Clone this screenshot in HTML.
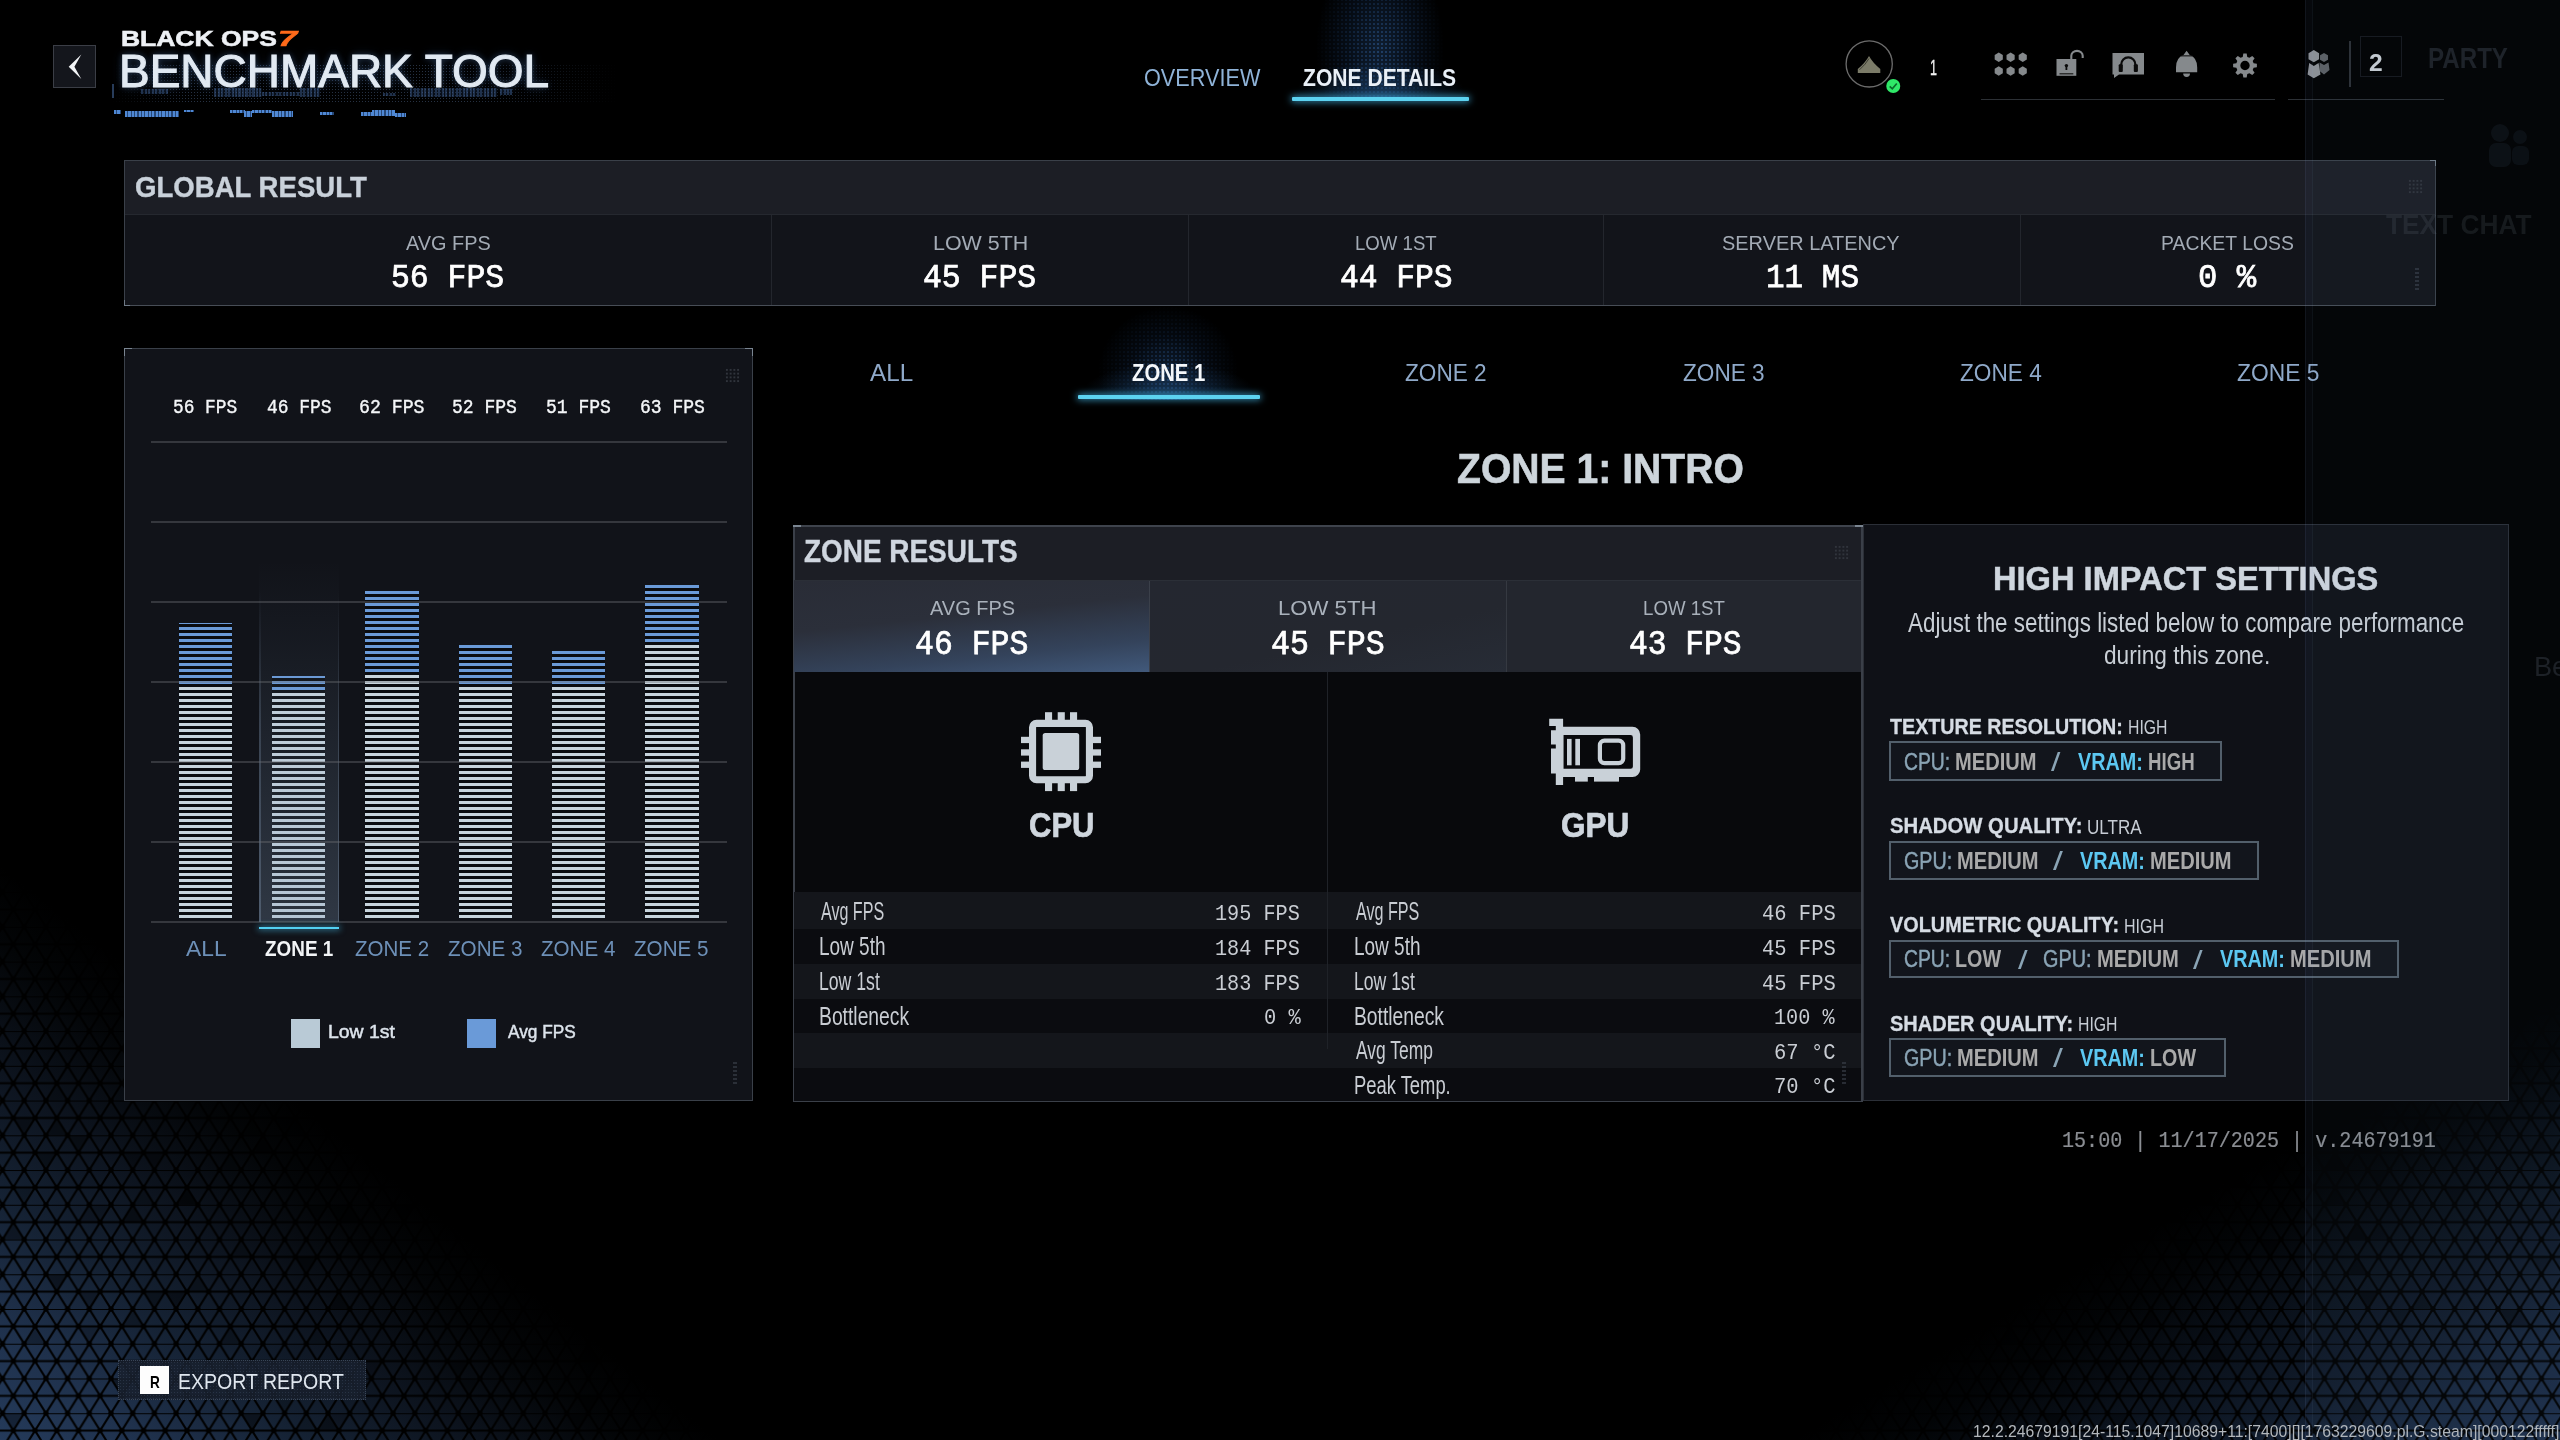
<!DOCTYPE html>
<html lang="en"><head><meta charset="utf-8"><title>Benchmark Tool</title>
<style>

html,body{margin:0;padding:0;background:#000;}
body{width:2560px;height:1440px;position:relative;overflow:hidden;font-family:'Liberation Sans',sans-serif;}
.t{position:absolute;white-space:pre;transform-origin:0 0;}
.a{position:absolute;box-sizing:border-box;}
svg{position:absolute;left:0;top:0;overflow:visible;}

</style></head>
<body>
<svg width="2560" height="1440" viewBox="0 0 2560 1440" style="z-index:0">
<defs>
<pattern id="tri" width="21.7" height="34.74" patternUnits="userSpaceOnUse" patternTransform="translate(2.5,23.63)">
<path d="M0,0 H21.7 M0,17.37 H21.7 M0,0 L10.85,17.37 L0,34.74 M21.7,0 L10.85,17.37 L21.7,34.74" stroke="#000" stroke-width="2.1" fill="none"/>
<circle cx="0" cy="0" r="2.7" fill="#000"/><circle cx="21.7" cy="0" r="2.7" fill="#000"/>
<circle cx="10.85" cy="17.37" r="2.7" fill="#000"/>
<circle cx="0" cy="34.74" r="2.7" fill="#000"/><circle cx="21.7" cy="34.74" r="2.7" fill="#000"/>
</pattern>
<linearGradient id="gl" gradientUnits="userSpaceOnUse" x1="0" y1="1440" x2="281" y2="1088.7"><stop offset="0" stop-color="rgb(36,58,90)"/><stop offset="0.208" stop-color="rgb(31,49,76)"/><stop offset="0.417" stop-color="rgb(21,34,52)"/><stop offset="0.64" stop-color="rgb(13,20,31)"/><stop offset="0.86" stop-color="rgb(3,5,7)"/><stop offset="1" stop-color="rgb(0,0,0)"/></linearGradient>
<linearGradient id="gr" gradientUnits="userSpaceOnUse" x1="2560" y1="1440" x2="2359.8" y2="1102.9"><stop offset="0" stop-color="rgb(30,48,76)"/><stop offset="0.208" stop-color="rgb(26,41,65)"/><stop offset="0.417" stop-color="rgb(17,28,44)"/><stop offset="0.64" stop-color="rgb(10,17,27)"/><stop offset="0.86" stop-color="rgb(2,4,6)"/><stop offset="1" stop-color="rgb(0,0,0)"/></linearGradient>
</defs>
<rect x="0" y="850" width="740" height="590" fill="url(#gl)"/>
<rect x="1780" y="970" width="780" height="470" fill="url(#gr)"/>
<polygon points="306.3,1378.5 295.4,1395.9 317.2,1395.9" fill="rgba(0,0,0,0.45)"/><polygon points="317.2,1361.1 306.3,1378.5 328.0,1378.5" fill="rgba(0,0,0,0.3)"/><polygon points="121.8,1361.1 143.5,1361.1 132.7,1378.5" fill="rgba(0,0,0,0.3)"/><polygon points="78.4,1326.4 100.1,1326.4 89.3,1343.8" fill="rgba(0,0,0,0.22)"/><polygon points="371.4,1100.6 360.5,1117.9 382.2,1117.9" fill="rgba(0,0,0,0.45)"/><polygon points="306.3,1413.2 295.4,1430.6 317.2,1430.6" fill="rgba(0,0,0,0.22)"/><polygon points="577.5,1361.1 599.2,1361.1 588.4,1378.5" fill="rgba(0,0,0,0.22)"/><polygon points="132.7,1204.8 121.8,1222.2 143.5,1222.2" fill="rgba(0,0,0,0.45)"/><polygon points="230.3,1326.4 219.5,1343.8 241.2,1343.8" fill="rgba(0,0,0,0.3)"/><polygon points="349.7,1204.8 338.8,1222.2 360.6,1222.2" fill="rgba(0,0,0,0.45)"/><polygon points="13.3,1117.9 35.0,1117.9 24.2,1135.3" fill="rgba(0,0,0,0.38)"/><polygon points="284.6,1378.5 273.7,1395.9 295.4,1395.9" fill="rgba(0,0,0,0.22)"/><polygon points="490.8,1222.2 512.5,1222.2 501.6,1239.5" fill="rgba(0,0,0,0.3)"/><polygon points="349.7,1239.5 371.4,1239.5 360.6,1256.9" fill="rgba(0,0,0,0.22)"/><polygon points="262.9,1135.3 252.0,1152.7 273.8,1152.7" fill="rgba(0,0,0,0.45)"/><polygon points="56.8,1083.2 45.9,1100.6 67.6,1100.6" fill="rgba(0,0,0,0.22)"/><polygon points="143.5,1187.4 132.7,1204.8 154.4,1204.8" fill="rgba(0,0,0,0.22)"/><polygon points="338.9,1291.6 328.0,1309.0 349.7,1309.0" fill="rgba(0,0,0,0.45)"/><polygon points="295.4,1117.9 284.6,1135.3 306.3,1135.3" fill="rgba(0,0,0,0.3)"/><polygon points="534.1,1222.2 555.9,1222.2 545.0,1239.5" fill="rgba(0,0,0,0.38)"/><polygon points="230.3,1083.2 219.5,1100.6 241.2,1100.6" fill="rgba(0,0,0,0.22)"/><polygon points="89.3,1204.8 78.5,1222.2 100.1,1222.2" fill="rgba(0,0,0,0.22)"/><polygon points="35.0,1326.4 24.2,1343.8 45.9,1343.8" fill="rgba(0,0,0,0.3)"/><polygon points="458.2,1378.5 479.9,1378.5 469.1,1395.9" fill="rgba(0,0,0,0.3)"/><polygon points="512.4,1152.7 534.1,1152.7 523.3,1170.0" fill="rgba(0,0,0,0.45)"/><polygon points="78.4,1291.6 100.1,1291.6 89.3,1309.0" fill="rgba(0,0,0,0.3)"/><polygon points="13.3,1222.2 2.5,1239.5 24.2,1239.5" fill="rgba(0,0,0,0.38)"/><polygon points="13.3,1187.4 35.0,1187.4 24.2,1204.8" fill="rgba(0,0,0,0.22)"/><polygon points="35.0,1152.7 56.8,1152.7 45.9,1170.0" fill="rgba(0,0,0,0.38)"/><polygon points="2.5,1413.2 24.2,1413.2 13.3,1430.6" fill="rgba(0,0,0,0.38)"/><polygon points="273.8,1117.9 295.4,1117.9 284.6,1135.3" fill="rgba(0,0,0,0.3)"/><polygon points="393.1,1204.8 414.8,1204.8 403.9,1222.2" fill="rgba(0,0,0,0.38)"/><polygon points="241.2,1413.2 262.9,1413.2 252.0,1430.6" fill="rgba(0,0,0,0.45)"/><polygon points="577.5,1395.9 599.2,1395.9 588.4,1413.2" fill="rgba(0,0,0,0.45)"/><polygon points="121.8,1152.7 143.5,1152.7 132.7,1170.0" fill="rgba(0,0,0,0.3)"/><polygon points="566.7,1413.2 588.4,1413.2 577.5,1430.6" fill="rgba(0,0,0,0.3)"/><polygon points="111.0,1378.5 132.7,1378.5 121.8,1395.9" fill="rgba(0,0,0,0.45)"/><polygon points="328.0,1413.2 349.7,1413.2 338.9,1430.6" fill="rgba(0,0,0,0.22)"/><polygon points="67.6,1135.3 89.3,1135.3 78.4,1152.7" fill="rgba(0,0,0,0.38)"/><polygon points="165.2,1291.6 186.9,1291.6 176.1,1309.0" fill="rgba(0,0,0,0.45)"/><polygon points="208.6,1361.1 230.3,1361.1 219.5,1378.5" fill="rgba(0,0,0,0.22)"/><polygon points="89.3,1204.8 111.0,1204.8 100.1,1222.2" fill="rgba(0,0,0,0.22)"/><polygon points="186.9,1187.4 176.1,1204.8 197.8,1204.8" fill="rgba(0,0,0,0.3)"/><polygon points="512.4,1083.2 534.1,1083.2 523.3,1100.6" fill="rgba(0,0,0,0.45)"/><polygon points="306.3,1204.8 328.0,1204.8 317.2,1222.2" fill="rgba(0,0,0,0.3)"/><polygon points="197.8,1274.3 186.9,1291.6 208.6,1291.6" fill="rgba(0,0,0,0.3)"/><polygon points="45.9,1274.3 67.6,1274.3 56.8,1291.6" fill="rgba(0,0,0,0.45)"/><polygon points="230.3,1361.1 219.5,1378.5 241.2,1378.5" fill="rgba(0,0,0,0.3)"/><polygon points="393.1,1100.6 382.2,1117.9 403.9,1117.9" fill="rgba(0,0,0,0.45)"/><polygon points="241.2,1239.5 230.3,1256.9 252.0,1256.9" fill="rgba(0,0,0,0.22)"/><polygon points="425.7,1117.9 447.4,1117.9 436.5,1135.3" fill="rgba(0,0,0,0.38)"/><polygon points="230.3,1152.7 219.5,1170.0 241.2,1170.0" fill="rgba(0,0,0,0.22)"/><polygon points="306.3,1378.5 328.0,1378.5 317.2,1395.9" fill="rgba(0,0,0,0.22)"/><polygon points="512.4,1152.7 501.6,1170.0 523.3,1170.0" fill="rgba(0,0,0,0.38)"/><polygon points="252.0,1117.9 241.2,1135.3 262.9,1135.3" fill="rgba(0,0,0,0.22)"/><polygon points="588.4,1309.0 577.5,1326.4 599.2,1326.4" fill="rgba(0,0,0,0.22)"/><polygon points="588.4,1343.8 577.5,1361.1 599.2,1361.1" fill="rgba(0,0,0,0.45)"/><polygon points="273.8,1395.9 295.4,1395.9 284.6,1413.2" fill="rgba(0,0,0,0.22)"/><polygon points="56.8,1117.9 45.9,1135.3 67.6,1135.3" fill="rgba(0,0,0,0.38)"/><polygon points="295.4,1256.9 317.1,1256.9 306.3,1274.3" fill="rgba(0,0,0,0.45)"/><polygon points="317.2,1326.4 306.3,1343.8 328.0,1343.8" fill="rgba(0,0,0,0.22)"/><polygon points="360.6,1361.1 382.2,1361.1 371.4,1378.5" fill="rgba(0,0,0,0.22)"/><polygon points="338.9,1083.2 360.6,1083.2 349.7,1100.6" fill="rgba(0,0,0,0.22)"/><polygon points="328.0,1413.2 317.1,1430.6 338.9,1430.6" fill="rgba(0,0,0,0.45)"/><polygon points="186.9,1083.2 208.6,1083.2 197.8,1100.6" fill="rgba(0,0,0,0.3)"/><polygon points="458.2,1413.2 479.9,1413.2 469.1,1430.6" fill="rgba(0,0,0,0.3)"/><polygon points="534.1,1256.9 523.3,1274.3 545.0,1274.3" fill="rgba(0,0,0,0.45)"/><polygon points="328.0,1204.8 349.7,1204.8 338.9,1222.2" fill="rgba(0,0,0,0.38)"/><polygon points="132.7,1309.0 121.8,1326.4 143.5,1326.4" fill="rgba(0,0,0,0.3)"/><polygon points="143.5,1291.6 165.2,1291.6 154.4,1309.0" fill="rgba(0,0,0,0.38)"/><polygon points="143.5,1152.7 165.2,1152.7 154.4,1170.0" fill="rgba(0,0,0,0.38)"/><polygon points="566.7,1100.6 555.8,1117.9 577.5,1117.9" fill="rgba(0,0,0,0.38)"/><polygon points="566.7,1170.1 588.4,1170.1 577.5,1187.4" fill="rgba(0,0,0,0.45)"/><polygon points="186.9,1187.4 176.1,1204.8 197.8,1204.8" fill="rgba(0,0,0,0.45)"/><polygon points="447.4,1361.1 469.1,1361.1 458.2,1378.5" fill="rgba(0,0,0,0.38)"/><polygon points="2487.1,1361.1 2508.8,1361.1 2498.0,1378.5" fill="rgba(0,0,0,0.22)"/><polygon points="2172.5,1135.3 2161.7,1152.7 2183.3,1152.7" fill="rgba(0,0,0,0.38)"/><polygon points="2389.5,1309.0 2411.2,1309.0 2400.3,1326.4" fill="rgba(0,0,0,0.22)"/><polygon points="2443.8,1187.4 2465.4,1187.4 2454.6,1204.8" fill="rgba(0,0,0,0.3)"/><polygon points="2009.7,1256.9 2031.4,1256.9 2020.6,1274.3" fill="rgba(0,0,0,0.3)"/><polygon points="2541.4,1135.3 2530.6,1152.7 2552.2,1152.7" fill="rgba(0,0,0,0.22)"/><polygon points="2302.7,1170.1 2291.8,1187.4 2313.5,1187.4" fill="rgba(0,0,0,0.38)"/><polygon points="2053.2,1222.2 2074.8,1222.2 2064.0,1239.5" fill="rgba(0,0,0,0.45)"/><polygon points="2172.5,1204.8 2161.7,1222.2 2183.3,1222.2" fill="rgba(0,0,0,0.45)"/><polygon points="2367.8,1135.3 2389.5,1135.3 2378.6,1152.7" fill="rgba(0,0,0,0.38)"/><polygon points="2519.7,1309.0 2508.8,1326.4 2530.5,1326.4" fill="rgba(0,0,0,0.3)"/><polygon points="2259.3,1239.5 2281.0,1239.5 2270.1,1256.9" fill="rgba(0,0,0,0.45)"/><polygon points="2096.5,1361.1 2118.2,1361.1 2107.4,1378.5" fill="rgba(0,0,0,0.22)"/><polygon points="2259.3,1413.2 2248.4,1430.6 2270.1,1430.6" fill="rgba(0,0,0,0.38)"/><polygon points="2313.5,1291.6 2302.7,1309.0 2324.4,1309.0" fill="rgba(0,0,0,0.3)"/><polygon points="2064.0,1170.1 2085.7,1170.1 2074.8,1187.4" fill="rgba(0,0,0,0.45)"/><polygon points="2042.3,1274.3 2031.5,1291.6 2053.2,1291.6" fill="rgba(0,0,0,0.38)"/><polygon points="2183.3,1117.9 2205.0,1117.9 2194.2,1135.3" fill="rgba(0,0,0,0.22)"/><polygon points="2031.4,1361.1 2053.1,1361.1 2042.3,1378.5" fill="rgba(0,0,0,0.45)"/><polygon points="2530.5,1256.9 2552.2,1256.9 2541.4,1274.3" fill="rgba(0,0,0,0.22)"/><polygon points="2139.9,1152.7 2161.6,1152.7 2150.8,1170.0" fill="rgba(0,0,0,0.22)"/><polygon points="2107.4,1413.2 2129.1,1413.2 2118.2,1430.6" fill="rgba(0,0,0,0.3)"/><polygon points="2335.2,1187.4 2324.4,1204.8 2346.1,1204.8" fill="rgba(0,0,0,0.45)"/><polygon points="2335.2,1152.7 2324.4,1170.0 2346.1,1170.0" fill="rgba(0,0,0,0.45)"/><polygon points="2346.1,1413.2 2367.8,1413.2 2356.9,1430.6" fill="rgba(0,0,0,0.3)"/><polygon points="2356.9,1395.9 2346.1,1413.2 2367.8,1413.2" fill="rgba(0,0,0,0.38)"/><polygon points="2205.0,1326.4 2194.2,1343.8 2215.9,1343.8" fill="rgba(0,0,0,0.3)"/><polygon points="2205.0,1187.4 2194.2,1204.8 2215.9,1204.8" fill="rgba(0,0,0,0.38)"/><polygon points="2389.5,1378.5 2411.2,1378.5 2400.3,1395.9" fill="rgba(0,0,0,0.22)"/><polygon points="2356.9,1117.9 2346.1,1135.3 2367.8,1135.3" fill="rgba(0,0,0,0.22)"/><polygon points="2367.8,1135.3 2356.9,1152.7 2378.6,1152.7" fill="rgba(0,0,0,0.45)"/><polygon points="2367.8,1170.1 2389.5,1170.1 2378.6,1187.4" fill="rgba(0,0,0,0.3)"/><polygon points="2042.3,1413.2 2064.0,1413.2 2053.2,1430.6" fill="rgba(0,0,0,0.45)"/><polygon points="2172.5,1239.5 2194.2,1239.5 2183.3,1256.9" fill="rgba(0,0,0,0.3)"/><polygon points="2215.9,1343.8 2205.1,1361.1 2226.8,1361.1" fill="rgba(0,0,0,0.45)"/><polygon points="2356.9,1291.6 2378.6,1291.6 2367.8,1309.0" fill="rgba(0,0,0,0.45)"/><polygon points="2422.0,1117.9 2411.2,1135.3 2432.9,1135.3" fill="rgba(0,0,0,0.3)"/><polygon points="2487.1,1117.9 2508.8,1117.9 2498.0,1135.3" fill="rgba(0,0,0,0.3)"/><polygon points="2161.6,1117.9 2150.8,1135.3 2172.5,1135.3" fill="rgba(0,0,0,0.38)"/><polygon points="2498.0,1309.0 2519.7,1309.0 2508.8,1326.4" fill="rgba(0,0,0,0.45)"/><polygon points="2064.0,1378.5 2053.2,1395.9 2074.8,1395.9" fill="rgba(0,0,0,0.22)"/><polygon points="2356.9,1256.9 2346.1,1274.3 2367.8,1274.3" fill="rgba(0,0,0,0.45)"/><polygon points="2009.7,1326.4 1998.9,1343.8 2020.6,1343.8" fill="rgba(0,0,0,0.3)"/><polygon points="2378.6,1222.2 2367.8,1239.5 2389.5,1239.5" fill="rgba(0,0,0,0.3)"/><polygon points="2356.9,1222.2 2346.1,1239.5 2367.8,1239.5" fill="rgba(0,0,0,0.3)"/><polygon points="2150.8,1309.0 2139.9,1326.4 2161.6,1326.4" fill="rgba(0,0,0,0.38)"/><polygon points="2422.0,1291.6 2411.2,1309.0 2432.9,1309.0" fill="rgba(0,0,0,0.3)"/><polygon points="2139.9,1222.2 2129.1,1239.5 2150.8,1239.5" fill="rgba(0,0,0,0.3)"/><polygon points="2161.6,1187.4 2150.8,1204.8 2172.5,1204.8" fill="rgba(0,0,0,0.38)"/><polygon points="2259.3,1170.1 2281.0,1170.1 2270.1,1187.4" fill="rgba(0,0,0,0.45)"/><polygon points="2378.6,1187.4 2400.3,1187.4 2389.5,1204.8" fill="rgba(0,0,0,0.22)"/><polygon points="2074.8,1222.2 2064.0,1239.5 2085.7,1239.5" fill="rgba(0,0,0,0.38)"/><polygon points="2237.6,1170.1 2226.8,1187.4 2248.4,1187.4" fill="rgba(0,0,0,0.38)"/><polygon points="2356.9,1222.2 2346.1,1239.5 2367.8,1239.5" fill="rgba(0,0,0,0.45)"/><polygon points="2074.8,1117.9 2096.5,1117.9 2085.7,1135.3" fill="rgba(0,0,0,0.45)"/>
<rect x="0" y="850" width="740" height="590" fill="url(#tri)"/>
<rect x="1780" y="970" width="780" height="470" fill="url(#tri)"/>
</svg>
<div class="a" style="left:53px;top:45px;width:43px;height:43px;background:#14161c;border:1px solid #3b3e46;"></div>
<svg width="2560" height="1440" viewBox="0 0 2560 1440" style="z-index:3"><polygon points="81.3,54.4 68.7,66.7 81.3,78.9 74.4,66.7" fill="#f2f4f6"/></svg>
<div class="a" style="left:112px;top:64px;width:506px;height:40px;background-image:radial-gradient(circle,rgba(70,90,120,.55) 0.7px,transparent 1px);background-size:3px 3px;-webkit-mask-image:linear-gradient(90deg,transparent,#000 15%,#000 70%,transparent);mask-image:linear-gradient(90deg,transparent,#000 15%,#000 70%,transparent);"></div>
<div class="a" style="left:141px;top:88.5px;width:27px;height:5.5px;background:repeating-linear-gradient(90deg,rgba(64,98,150,.5) 0 2px,rgba(28,46,74,.3) 2px 3.5px);"></div>
<div class="a" style="left:214px;top:87.5px;width:48px;height:9px;background:repeating-linear-gradient(90deg,rgba(64,98,150,.5) 0 2px,rgba(28,46,74,.3) 2px 3.5px);"></div>
<div class="a" style="left:262px;top:92px;width:38px;height:3.5px;background:repeating-linear-gradient(90deg,rgba(64,98,150,.5) 0 2px,rgba(28,46,74,.3) 2px 3.5px);"></div>
<div class="a" style="left:300px;top:88px;width:20px;height:8.5px;background:repeating-linear-gradient(90deg,rgba(64,98,150,.5) 0 2px,rgba(28,46,74,.3) 2px 3.5px);"></div>
<div class="a" style="left:383px;top:93px;width:13px;height:2.5px;background:repeating-linear-gradient(90deg,rgba(64,98,150,.5) 0 2px,rgba(28,46,74,.3) 2px 3.5px);"></div>
<div class="a" style="left:410px;top:87.5px;width:87px;height:9px;background:repeating-linear-gradient(90deg,rgba(64,98,150,.5) 0 2px,rgba(28,46,74,.3) 2px 3.5px);"></div>
<div class="a" style="left:500px;top:89px;width:12px;height:6px;background:repeating-linear-gradient(90deg,rgba(64,98,150,.5) 0 2px,rgba(28,46,74,.3) 2px 3.5px);"></div>
<div class="a" style="left:113.5px;top:110px;width:7.5px;height:3.5px;background:repeating-linear-gradient(90deg,#4f88d4 0 2.2px,#274878 2.2px 3.4px);"></div>
<div class="a" style="left:125px;top:111px;width:54px;height:6px;background:repeating-linear-gradient(90deg,#4f88d4 0 2.2px,#274878 2.2px 3.4px);"></div>
<div class="a" style="left:184px;top:110px;width:10px;height:2px;background:repeating-linear-gradient(90deg,#4f88d4 0 2.2px,#274878 2.2px 3.4px);"></div>
<div class="a" style="left:230px;top:110px;width:15px;height:2.5px;background:repeating-linear-gradient(90deg,#4f88d4 0 2.2px,#274878 2.2px 3.4px);"></div>
<div class="a" style="left:244px;top:111px;width:8px;height:6px;background:repeating-linear-gradient(90deg,#4f88d4 0 2.2px,#274878 2.2px 3.4px);"></div>
<div class="a" style="left:252px;top:110px;width:20px;height:3px;background:repeating-linear-gradient(90deg,#4f88d4 0 2.2px,#274878 2.2px 3.4px);"></div>
<div class="a" style="left:272px;top:111px;width:21px;height:6px;background:repeating-linear-gradient(90deg,#4f88d4 0 2.2px,#274878 2.2px 3.4px);"></div>
<div class="a" style="left:319.5px;top:111.5px;width:14.5px;height:3.5px;background:repeating-linear-gradient(90deg,#4f88d4 0 2.2px,#274878 2.2px 3.4px);"></div>
<div class="a" style="left:360.5px;top:112px;width:11.5px;height:3.5px;background:repeating-linear-gradient(90deg,#4f88d4 0 2.2px,#274878 2.2px 3.4px);"></div>
<div class="a" style="left:372px;top:110px;width:23px;height:6px;background:repeating-linear-gradient(90deg,#4f88d4 0 2.2px,#274878 2.2px 3.4px);"></div>
<div class="a" style="left:395px;top:112.5px;width:11px;height:4.5px;background:repeating-linear-gradient(90deg,#4f88d4 0 2.2px,#274878 2.2px 3.4px);"></div>
<div class="a" style="left:112px;top:84px;width:1.5px;height:14px;background:rgba(80,120,180,.5);"></div>
<div class="a" style="left:1300px;top:-30px;width:160px;height:130px;background:radial-gradient(ellipse 40% 80% at 50% 60%,rgba(52,104,170,.62),rgba(32,70,122,.36) 55%,transparent 100%);-webkit-mask-image:radial-gradient(circle,#000 1.1px,rgba(0,0,0,.45) 1.4px);-webkit-mask-size:4px 4px;mask-image:radial-gradient(circle,#000 1.1px,rgba(0,0,0,.45) 1.4px);mask-size:4px 4px;"></div>
<div class="a" style="left:1292px;top:60px;width:177px;height:40px;background:radial-gradient(ellipse 50% 100% at 50% 100%,rgba(48,110,175,.45),transparent 100%);"></div>
<div class="a" style="left:1292px;top:96.75px;width:177px;height:3.75px;background:#5cd2f0;box-shadow:0 0 7px 1px rgba(70,185,235,.75);border-radius:1px;"></div>
<svg width="2560" height="1440" viewBox="0 0 2560 1440" style="z-index:3">
<circle cx="1869.2" cy="63.9" r="23.1" fill="none" stroke="#6c6c6c" stroke-width="1.3"/>
<path d="M1869,56 Q1865.5,62.5 1857.8,69 L1857.8,73 L1880.3,73 L1880.3,69 Q1872.5,62.5 1869,56 Z" fill="#7b7b68"/>
<path d="M1869,58.5 Q1866,64 1859.5,69.8" fill="none" stroke="#3e3e33" stroke-width="1"/>
<circle cx="1893.25" cy="86" r="7" fill="#2fe868"/>
<path d="M1889.7,86.3 L1892.3,88.8 L1896.8,83.5" fill="none" stroke="#0a6a2b" stroke-width="1.7"/>
</svg>
<svg width="2560" height="1440" viewBox="0 0 2560 1440" style="z-index:3"><polygon points="1998.75,52.55 2002.82,54.90 2002.82,59.60 1998.75,61.95 1994.68,59.60 1994.68,54.90" fill="#85898c"/><polygon points="1998.75,66.30 2002.82,68.65 2002.82,73.35 1998.75,75.70 1994.68,73.35 1994.68,68.65" fill="#85898c"/><polygon points="2010.60,52.55 2014.67,54.90 2014.67,59.60 2010.60,61.95 2006.53,59.60 2006.53,54.90" fill="#85898c"/><polygon points="2010.60,66.30 2014.67,68.65 2014.67,73.35 2010.60,75.70 2006.53,73.35 2006.53,68.65" fill="#85898c"/><polygon points="2022.75,52.55 2026.82,54.90 2026.82,59.60 2022.75,61.95 2018.68,59.60 2018.68,54.90" fill="#85898c"/><polygon points="2022.75,66.30 2026.82,68.65 2026.82,73.35 2022.75,75.70 2018.68,73.35 2018.68,68.65" fill="#85898c"/><rect x="2056.5" y="59" width="19.8" height="16.8" fill="#85898c"/><circle cx="2066.4" cy="65.6" r="1.7" fill="#0a0a0a"/><rect x="2065.5" y="66" width="1.8" height="4" fill="#0a0a0a"/><rect x="2059.5" y="73.2" width="13.8" height="1.2" fill="#1a1a1a"/><path d="M2071.3,59 V55.8 A5.7,5 0 0 1 2082.7,55.8 V58" fill="none" stroke="#85898c" stroke-width="2.1"/><path d="M2112.5,53 H2144 V74.5 H2119 L2114,78 V74.5 H2112.5 Z" fill="#85898c"/><path d="M2121.2,68 V64.5 A7.1,7.1 0 0 1 2135.4,64.5 V68" fill="none" stroke="#0a0a0a" stroke-width="2.2"/><rect x="2118.7" y="64.3" width="4.1" height="7.6" rx="1" fill="#0a0a0a"/><rect x="2133.8" y="64.3" width="4.1" height="7.6" rx="1" fill="#0a0a0a"/><path d="M2176,72.3 V67.5 Q2176,57.5 2183.5,55 L2186.6,50.8 L2189.7,55 Q2197.2,57.5 2197.2,67.5 V72.3 Z" fill="#85898c"/><rect x="2181" y="55.3" width="11.4" height="1.1" fill="#111"/><path d="M2183.2,73.6 H2190 A3.4,3.4 0 0 1 2183.2,73.6 Z" fill="#85898c"/><path d="M2243.33,53.62 L2246.67,53.62 L2247.29,56.90 L2249.46,57.80 L2252.22,55.91 L2254.59,58.28 L2252.70,61.04 L2253.60,63.21 L2256.88,63.83 L2256.88,67.17 L2253.60,67.79 L2252.70,69.96 L2254.59,72.72 L2252.22,75.09 L2249.46,73.20 L2247.29,74.10 L2246.67,77.38 L2243.33,77.38 L2242.71,74.10 L2240.54,73.20 L2237.78,75.09 L2235.41,72.72 L2237.30,69.96 L2236.40,67.79 L2233.12,67.17 L2233.12,63.83 L2236.40,63.21 L2237.30,61.04 L2235.41,58.28 L2237.78,55.91 L2240.54,57.80 L2242.71,56.90 Z M2249.7,65.5 A4.7,4.7 0 1 0 2240.3,65.5 A4.7,4.7 0 1 0 2249.7,65.5 Z" fill="#85898c" fill-rule="evenodd"/><polygon points="2324.00,52.90 2327.98,55.20 2327.98,59.80 2324.00,62.10 2320.02,59.80 2320.02,55.20" fill="#5d6064"/><path d="M2319.5,62.5 L2324,65 L2328.5,62.5 L2329.5,70 L2324,74.5 L2319.5,71 Z" fill="#5d6064"/><polygon points="2313.80,50.10 2319.08,53.15 2319.08,59.25 2313.80,62.30 2308.52,59.25 2308.52,53.15" fill="#8e9195"/><path d="M2309.2,63 L2313.8,66 L2318.6,63 L2320.5,74.5 L2313.8,78.3 L2307.6,74.5 Z" fill="#8e9195"/></svg>
<div class="a" style="left:1981px;top:99px;width:294px;height:1px;background:#2c3035;"></div>
<div class="a" style="left:2288px;top:99px;width:156px;height:1px;background:#2c3035;"></div>
<div class="a" style="left:2348.5px;top:41px;width:2px;height:46px;background:#2c2f34;"></div>
<div class="a" style="left:2360px;top:36px;width:42px;height:41px;border:1px solid rgba(40,46,56,.5);"></div>
<svg width="2560" height="1440" viewBox="0 0 2560 1440" style="z-index:1" opacity=".55">
<circle cx="2500" cy="133" r="9" fill="#12161c"/><rect x="2489" y="143" width="22" height="24" rx="7" fill="#12161c"/>
<circle cx="2520" cy="137" r="7" fill="#10141a"/><rect x="2512" y="146" width="17" height="19" rx="6" fill="#10141a"/></svg>
<div class="a" style="left:124px;top:160px;width:2312px;height:146px;background:#12141a;border:1px solid #3a4049;border-bottom-color:#474d56;"></div>
<div class="a" style="left:125px;top:161px;width:2310px;height:53.5px;background:#1c1e25;border-bottom:1px solid #25282f;"></div>
<div class="a" style="left:771px;top:215px;width:1px;height:90px;background:#23262d;"></div>
<div class="a" style="left:1187.5px;top:215px;width:1px;height:90px;background:#23262d;"></div>
<div class="a" style="left:1603px;top:215px;width:1px;height:90px;background:#23262d;"></div>
<div class="a" style="left:2019.5px;top:215px;width:1px;height:90px;background:#23262d;"></div>
<div class="a" style="left:2408px;top:179px;width:15px;height:15px;background-image:radial-gradient(circle,#30343c 0.9px,transparent 1.2px);background-size:3.75px 3.75px;"></div>
<div class="a" style="left:2415px;top:268px;width:4px;height:24px;background:repeating-linear-gradient(180deg,rgba(60,66,76,.6) 0 2px,transparent 2px 4px);"></div>
<div class="a" style="left:2430px;top:160px;width:6px;height:1px;background:#6f7a86;"></div>
<div class="a" style="left:2435px;top:160px;width:1px;height:6px;background:#6f7a86;"></div>
<div class="a" style="left:124px;top:300px;width:1px;height:6px;background:#6f7a86;"></div>
<div class="a" style="left:124px;top:305px;width:6px;height:1px;background:#6f7a86;"></div>
<div class="a" style="left:124px;top:348px;width:629px;height:753px;background:#111319;border:1px solid #3a4049;"></div>
<div class="a" style="left:124px;top:348px;width:8px;height:1px;background:#7a8591;"></div>
<div class="a" style="left:124px;top:348px;width:1px;height:8px;background:#7a8591;"></div>
<div class="a" style="left:745px;top:348px;width:8px;height:1px;background:#7a8591;"></div>
<div class="a" style="left:752px;top:348px;width:1px;height:8px;background:#7a8591;"></div>
<div class="a" style="left:724.5px;top:367.5px;width:15px;height:15px;background-image:radial-gradient(circle,#30343c 0.9px,transparent 1.2px);background-size:3.75px 3.75px;"></div>
<div class="a" style="left:733px;top:1062px;width:4px;height:24px;background:repeating-linear-gradient(180deg,rgba(60,66,76,.6) 0 2px,transparent 2px 4px);"></div>
<div class="a" style="left:178.75px;top:623px;width:53.25px;height:295px;background:#0a0c10;"></div>
<div class="a" style="left:178.75px;top:623px;width:53.25px;height:64px;background-image:linear-gradient(180deg,transparent 0,transparent 50%,#6a9ad8 50%,#6a9ad8 100%);background-size:100% 6px;background-position:0 -5px;"></div>
<div class="a" style="left:178.75px;top:687px;width:53.25px;height:231px;background-image:linear-gradient(180deg,transparent 0,transparent 50%,#c7d4dd 50%,#c7d4dd 100%);background-size:100% 6px;background-position:0 -3px;"></div>
<div class="a" style="left:272px;top:676px;width:53px;height:242px;background:#0a0c10;"></div>
<div class="a" style="left:272px;top:676px;width:53px;height:17px;background-image:linear-gradient(180deg,transparent 0,transparent 50%,#6a9ad8 50%,#6a9ad8 100%);background-size:100% 6px;background-position:0 -4px;"></div>
<div class="a" style="left:272px;top:693px;width:53px;height:225px;background-image:linear-gradient(180deg,transparent 0,transparent 50%,#c7d4dd 50%,#c7d4dd 100%);background-size:100% 6px;background-position:0 -3px;"></div>
<div class="a" style="left:365px;top:591px;width:54px;height:327px;background:#0a0c10;"></div>
<div class="a" style="left:365px;top:591px;width:54px;height:84px;background-image:linear-gradient(180deg,transparent 0,transparent 50%,#6a9ad8 50%,#6a9ad8 100%);background-size:100% 6px;background-position:0 -3px;"></div>
<div class="a" style="left:365px;top:675px;width:54px;height:243px;background-image:linear-gradient(180deg,transparent 0,transparent 50%,#c7d4dd 50%,#c7d4dd 100%);background-size:100% 6px;background-position:0 -3px;"></div>
<div class="a" style="left:459px;top:645px;width:53px;height:273px;background:#0a0c10;"></div>
<div class="a" style="left:459px;top:645px;width:53px;height:42px;background-image:linear-gradient(180deg,transparent 0,transparent 50%,#6a9ad8 50%,#6a9ad8 100%);background-size:100% 6px;background-position:0 -3px;"></div>
<div class="a" style="left:459px;top:687px;width:53px;height:231px;background-image:linear-gradient(180deg,transparent 0,transparent 50%,#c7d4dd 50%,#c7d4dd 100%);background-size:100% 6px;background-position:0 -3px;"></div>
<div class="a" style="left:552px;top:651px;width:53px;height:267px;background:#0a0c10;"></div>
<div class="a" style="left:552px;top:651px;width:53px;height:36px;background-image:linear-gradient(180deg,transparent 0,transparent 50%,#6a9ad8 50%,#6a9ad8 100%);background-size:100% 6px;background-position:0 -3px;"></div>
<div class="a" style="left:552px;top:687px;width:53px;height:231px;background-image:linear-gradient(180deg,transparent 0,transparent 50%,#c7d4dd 50%,#c7d4dd 100%);background-size:100% 6px;background-position:0 -3px;"></div>
<div class="a" style="left:645px;top:585px;width:54px;height:333px;background:#0a0c10;"></div>
<div class="a" style="left:645px;top:585px;width:54px;height:60px;background-image:linear-gradient(180deg,transparent 0,transparent 50%,#6a9ad8 50%,#6a9ad8 100%);background-size:100% 6px;background-position:0 -3px;"></div>
<div class="a" style="left:645px;top:645px;width:54px;height:273px;background-image:linear-gradient(180deg,transparent 0,transparent 50%,#c7d4dd 50%,#c7d4dd 100%);background-size:100% 6px;background-position:0 -3px;"></div>
<div class="a" style="left:259px;top:560px;width:80px;height:362px;background:linear-gradient(180deg,rgba(120,150,185,0) 0%,rgba(120,150,185,.05) 22%,rgba(125,152,182,.15) 58%,rgba(130,155,185,.27) 100%);"></div>
<div class="a" style="left:259px;top:590px;width:1.5px;height:332px;background:linear-gradient(180deg,rgba(150,175,205,0),rgba(150,175,205,.22) 40%,rgba(150,175,205,.3));"></div>
<div class="a" style="left:337.5px;top:590px;width:1.5px;height:332px;background:linear-gradient(180deg,rgba(150,175,205,0),rgba(150,175,205,.22) 40%,rgba(150,175,205,.3));"></div>
<div class="a" style="left:151px;top:441px;width:576px;height:2px;background:rgba(108,111,116,.4);"></div>
<div class="a" style="left:151px;top:521px;width:576px;height:2px;background:rgba(108,111,116,.4);"></div>
<div class="a" style="left:151px;top:601px;width:576px;height:2px;background:rgba(108,111,116,.4);"></div>
<div class="a" style="left:151px;top:681px;width:576px;height:2px;background:rgba(108,111,116,.4);"></div>
<div class="a" style="left:151px;top:761px;width:576px;height:2px;background:rgba(108,111,116,.4);"></div>
<div class="a" style="left:151px;top:841px;width:576px;height:2px;background:rgba(108,111,116,.4);"></div>
<div class="a" style="left:151px;top:921px;width:576px;height:2px;background:rgba(108,111,116,.4);"></div>
<div class="a" style="left:259px;top:926.5px;width:80px;height:2.8px;background:#52d0f2;box-shadow:0 0 6px 1px rgba(70,190,235,.65);"></div>
<div class="a" style="left:290.75px;top:1018.75px;width:29.25px;height:29.25px;background:#b9cad6;"></div>
<div class="a" style="left:467px;top:1018.75px;width:29.25px;height:29.25px;background:#6a9ad8;"></div>
<div class="a" style="left:1098px;top:306px;width:140px;height:94px;background:radial-gradient(ellipse 50% 70% at 50% 70%,rgba(52,104,170,.6),rgba(30,66,116,.28) 55%,transparent 100%);-webkit-mask-image:radial-gradient(circle,#000 1.1px,rgba(0,0,0,.45) 1.4px);-webkit-mask-size:4px 4px;mask-image:radial-gradient(circle,#000 1.1px,rgba(0,0,0,.45) 1.4px);mask-size:4px 4px;"></div>
<div class="a" style="left:1077.5px;top:362px;width:182px;height:38px;background:radial-gradient(ellipse 50% 100% at 50% 100%,rgba(48,110,175,.42),transparent 100%);"></div>
<div class="a" style="left:1077.5px;top:395.2px;width:182px;height:4.3px;background:#5cd2f0;box-shadow:0 0 7px 1px rgba(70,185,235,.75);border-radius:1px;"></div>
<div class="a" style="left:793px;top:524.5px;width:1070px;height:577px;background:#08090c;border:1px solid #3b4049;border-top:2px solid #3e434c;border-right:2px solid #3a3f48;border-left:2px solid #3a3f48;"></div>
<div class="a" style="left:795px;top:526.5px;width:1066px;height:53px;background:#1c1e25;"></div>
<div class="a" style="left:794px;top:579.5px;width:1067px;height:1px;background:#2b2f37;"></div>
<div class="a" style="left:794px;top:580.5px;width:355px;height:91.5px;background:linear-gradient(174deg,#292c36 0%,#2b2f3a 40%,#34435b 75%,#41597b 100%);"></div>
<div class="a" style="left:1149.5px;top:580.5px;width:356.5px;height:91.5px;background:linear-gradient(168deg,#242730 0%,#24272f 60%,#272c36 100%);"></div>
<div class="a" style="left:1506.5px;top:580.5px;width:354.5px;height:91.5px;background:#23262e;"></div>
<div class="a" style="left:1148.75px;top:580.5px;width:1px;height:91.5px;background:#3b404a;"></div>
<div class="a" style="left:1505.75px;top:580.5px;width:1px;height:91.5px;background:#353941;"></div>
<div class="a" style="left:1833.75px;top:545px;width:15px;height:15px;background-image:radial-gradient(circle,#30343c 0.9px,transparent 1.2px);background-size:3.75px 3.75px;"></div>
<div class="a" style="left:794px;top:892px;width:1067px;height:36.5px;background:#14161b;"></div>
<div class="a" style="left:794px;top:928.5px;width:1067px;height:35px;background:#0b0c10;"></div>
<div class="a" style="left:794px;top:963.5px;width:1067px;height:35px;background:#14161b;"></div>
<div class="a" style="left:794px;top:998.5px;width:1067px;height:34px;background:#0b0c10;"></div>
<div class="a" style="left:794px;top:1032.5px;width:1067px;height:35px;background:#14161b;"></div>
<div class="a" style="left:794px;top:1067.5px;width:1067px;height:33px;background:#0b0c10;"></div>
<div class="a" style="left:1327px;top:672px;width:1px;height:377px;background:#1f2228;"></div>
<div class="a" style="left:1842px;top:1062px;width:4px;height:24px;background:repeating-linear-gradient(180deg,rgba(60,66,76,.6) 0 2px,transparent 2px 4px);"></div>
<div class="a" style="left:793px;top:524.5px;width:8px;height:2px;background:#7a8591;"></div>
<div class="a" style="left:1855px;top:524.5px;width:8px;height:2px;background:#7a8591;"></div>
<svg width="2560" height="1440" viewBox="0 0 2560 1440" style="z-index:3"><rect x="1032.55" y="723.35" width="56.9" height="56.4" rx="4" fill="none" stroke="#c9d1d8" stroke-width="7.1"/><rect x="1042.7" y="733" width="36.5" height="37" rx="2.6" fill="#c9d1d8"/><rect x="1045" y="712.2" width="7.1" height="8.5" fill="#c9d1d8"/><rect x="1045" y="782.6" width="7.1" height="8.5" fill="#c9d1d8"/><rect x="1057.7" y="712.2" width="7.1" height="8.5" fill="#c9d1d8"/><rect x="1057.7" y="782.6" width="7.1" height="8.5" fill="#c9d1d8"/><rect x="1070" y="712.2" width="7.1" height="8.5" fill="#c9d1d8"/><rect x="1070" y="782.6" width="7.1" height="8.5" fill="#c9d1d8"/><rect x="1021" y="736.8" width="8.6" height="6.3" fill="#c9d1d8"/><rect x="1092.4" y="736.8" width="8.6" height="6.3" fill="#c9d1d8"/><rect x="1021" y="749.3" width="8.6" height="6.3" fill="#c9d1d8"/><rect x="1092.4" y="749.3" width="8.6" height="6.3" fill="#c9d1d8"/><rect x="1021" y="761.6" width="8.6" height="6.3" fill="#c9d1d8"/><rect x="1092.4" y="761.6" width="8.6" height="6.3" fill="#c9d1d8"/><path d="M1549.2,718.75 H1563.1 V785 H1555.8 V773.6 H1551 V748.6 H1555.8 V744.4 H1551 V730.2 H1555.8 V726 H1549.2 Z" fill="#c9d1d8"/><path d="M1563,726.7 H1632.5 A7.7,7.7 0 0 1 1640.2,734.4 V769.4 A7.7,7.7 0 0 1 1632.5,777.1 H1563 Z M1563.5,735 V768.75 H1630.5 A2.4,2.4 0 0 0 1632.9,766.3 V737.4 A2.4,2.4 0 0 0 1630.5,735 Z" fill="#c9d1d8" fill-rule="evenodd"/><rect x="1575" y="776.5" width="12.8" height="5.1" fill="#c9d1d8"/><rect x="1594" y="776.5" width="25" height="5.1" fill="#c9d1d8"/><rect x="1567" y="738.9" width="4.6" height="26.4" fill="#c9d1d8"/><rect x="1575.3" y="738.9" width="4.7" height="26.4" fill="#c9d1d8"/><rect x="1599.9" y="740.6" width="23.3" height="22.6" rx="4.5" fill="none" stroke="#c9d1d8" stroke-width="4.2"/></svg>
<div class="a" style="left:1863px;top:524px;width:645.5px;height:576.5px;background:#0f1117;border:1px solid #2b2f37;"></div>
<div class="a" style="left:1889.25px;top:741.25px;width:332.5px;height:39.25px;background:#12151c;border:2px solid #525f6b;"></div>
<div class="a" style="left:1889.25px;top:840.75px;width:369.5px;height:38.75px;background:#12151c;border:2px solid #525f6b;"></div>
<div class="a" style="left:1889.25px;top:939.5px;width:509.5px;height:38.75px;background:#12151c;border:2px solid #525f6b;"></div>
<div class="a" style="left:1889.25px;top:1037.5px;width:336.5px;height:39px;background:#12151c;border:2px solid #525f6b;"></div>
<div class="a" style="left:117.5px;top:1359.5px;width:248px;height:40px;background-color:rgba(24,32,45,.88);background-image:radial-gradient(circle,rgba(100,120,150,.22) 0.6px,transparent 0.9px);background-size:3px 3px;border:1px dotted rgba(110,130,155,.4);"></div>
<div class="a" style="left:140px;top:1365.75px;width:29.25px;height:28.5px;background:#fdfdfd;"></div>
<div class="t" style="left:121.05px;top:27.69px;font-size:21.62px;line-height:21.62px;font-family:'Liberation Sans', sans-serif;font-weight:700;color:#eef1f5;transform:scaleX(1.2242);-webkit-text-stroke:0.6px #eef1f5;">BLACK OPS</div>
<div class="t" style="left:277.85px;top:27.69px;font-size:21.62px;line-height:21.62px;font-family:'Liberation Sans', sans-serif;font-weight:700;font-style:italic;color:#ff6a1a;transform:scaleX(1.5902);-webkit-text-stroke:0.6px #ff6a1a;">7</div>
<div class="t" style="left:119.21px;top:47.99px;font-size:46.65px;line-height:46.65px;font-family:'Liberation Sans', sans-serif;color:#e1e9f2;transform:scaleX(0.9857);-webkit-text-stroke:1.05px #e1e9f2;text-shadow:0 0 6px rgba(110,160,230,.35),0 0 12px rgba(80,130,210,.22);">BENCHMARK TOOL</div>
<div class="t" style="left:1144.48px;top:66.62px;font-size:23.47px;line-height:23.47px;font-family:'Liberation Sans', sans-serif;color:#8fb3d8;transform:scaleX(0.9227);">OVERVIEW</div>
<div class="t" style="left:1303.47px;top:66.62px;font-size:23.47px;line-height:23.47px;font-family:'Liberation Sans', sans-serif;font-weight:700;color:#e9f0f7;transform:scaleX(0.8986);">ZONE DETAILS</div>
<div class="t" style="left:1929.81px;top:56.23px;font-size:22.76px;line-height:22.76px;font-family:'Liberation Sans', sans-serif;color:#f2f2f2;transform:scaleX(0.5528);-webkit-text-stroke:0.3px #f2f2f2;">1</div>
<div class="t" style="left:2369.23px;top:52.44px;font-size:23.32px;line-height:23.32px;font-family:'Liberation Sans', sans-serif;font-weight:700;color:#c8cdd2;transform:scaleX(1.0547);">2</div>
<div class="t" style="left:2428.29px;top:43.20px;font-size:29.87px;line-height:29.87px;font-family:'Liberation Sans', sans-serif;font-weight:700;color:#1c1f24;transform:scaleX(0.8077);">PARTY</div>
<div class="t" style="left:2385.50px;top:211.01px;font-size:27.73px;line-height:27.73px;font-family:'Liberation Sans', sans-serif;font-weight:700;color:rgba(120,130,145,.16);transform:scaleX(0.9478);">TEXT CHAT</div>
<div class="t" style="left:2533.88px;top:652.41px;font-size:28.44px;line-height:28.44px;font-family:'Liberation Sans', sans-serif;color:#1b1d21;transform:scaleX(0.9549);">Be</div>
<div class="t" style="left:135.14px;top:172.14px;font-size:30.29px;line-height:30.29px;font-family:'Liberation Sans', sans-serif;font-weight:700;color:#c9d1da;transform:scaleX(0.9106);-webkit-text-stroke:0.4px #c9d1da;">GLOBAL RESULT</div>
<div class="t" style="left:406.00px;top:233.68px;font-size:19.63px;line-height:19.63px;font-family:'Liberation Sans', sans-serif;color:#a3abb5;transform:scaleX(1.0146);">AVG FPS</div>
<div class="t" style="left:933.32px;top:233.68px;font-size:19.63px;line-height:19.63px;font-family:'Liberation Sans', sans-serif;color:#a3abb5;transform:scaleX(1.0939);">LOW 5TH</div>
<div class="t" style="left:1354.54px;top:233.68px;font-size:19.63px;line-height:19.63px;font-family:'Liberation Sans', sans-serif;color:#a3abb5;transform:scaleX(0.9492);">LOW 1ST</div>
<div class="t" style="left:1722.38px;top:233.68px;font-size:19.63px;line-height:19.63px;font-family:'Liberation Sans', sans-serif;color:#a3abb5;transform:scaleX(1.0169);">SERVER LATENCY</div>
<div class="t" style="left:2161.48px;top:233.68px;font-size:19.63px;line-height:19.63px;font-family:'Liberation Sans', sans-serif;color:#a3abb5;transform:scaleX(0.9885);">PACKET LOSS</div>
<div class="t" style="left:390.54px;top:262.35px;font-size:33.49px;line-height:33.49px;font-family:'Liberation Mono', monospace;color:#ffffff;transform:scaleX(0.9384);-webkit-text-stroke:0.75px #ffffff;">56 FPS</div>
<div class="t" style="left:923.03px;top:262.35px;font-size:33.49px;line-height:33.49px;font-family:'Liberation Mono', monospace;color:#ffffff;transform:scaleX(0.9384);-webkit-text-stroke:0.75px #ffffff;">45 FPS</div>
<div class="t" style="left:1339.53px;top:262.35px;font-size:33.49px;line-height:33.49px;font-family:'Liberation Mono', monospace;color:#ffffff;transform:scaleX(0.9342);-webkit-text-stroke:0.75px #ffffff;">44 FPS</div>
<div class="t" style="left:1765.56px;top:262.35px;font-size:33.49px;line-height:33.49px;font-family:'Liberation Mono', monospace;color:#ffffff;transform:scaleX(0.9266);-webkit-text-stroke:0.75px #ffffff;">11 MS</div>
<div class="t" style="left:2198.48px;top:262.35px;font-size:33.49px;line-height:33.49px;font-family:'Liberation Mono', monospace;color:#ffffff;transform:scaleX(0.9656);-webkit-text-stroke:0.75px #ffffff;">0 %</div>
<div class="t" style="left:172.63px;top:397.82px;font-size:20.47px;line-height:20.47px;font-family:'Liberation Mono', monospace;color:#f4f6f8;transform:scaleX(0.8724);-webkit-text-stroke:0.4px #f4f6f8;">56 FPS</div>
<div class="t" style="left:266.66px;top:397.82px;font-size:20.47px;line-height:20.47px;font-family:'Liberation Mono', monospace;color:#f4f6f8;transform:scaleX(0.8755);-webkit-text-stroke:0.4px #f4f6f8;">46 FPS</div>
<div class="t" style="left:358.86px;top:397.82px;font-size:20.47px;line-height:20.47px;font-family:'Liberation Mono', monospace;color:#f4f6f8;transform:scaleX(0.8899);-webkit-text-stroke:0.4px #f4f6f8;">62 FPS</div>
<div class="t" style="left:451.88px;top:397.82px;font-size:20.47px;line-height:20.47px;font-family:'Liberation Mono', monospace;color:#f4f6f8;transform:scaleX(0.8794);-webkit-text-stroke:0.4px #f4f6f8;">52 FPS</div>
<div class="t" style="left:546.38px;top:397.82px;font-size:20.47px;line-height:20.47px;font-family:'Liberation Mono', monospace;color:#f4f6f8;transform:scaleX(0.8794);-webkit-text-stroke:0.4px #f4f6f8;">51 FPS</div>
<div class="t" style="left:639.88px;top:397.82px;font-size:20.47px;line-height:20.47px;font-family:'Liberation Mono', monospace;color:#f4f6f8;transform:scaleX(0.8794);-webkit-text-stroke:0.4px #f4f6f8;">63 FPS</div>
<div class="t" style="left:185.75px;top:939.43px;font-size:21.33px;line-height:21.33px;font-family:'Liberation Sans', sans-serif;color:#6d90b8;transform:scaleX(1.0687);">ALL</div>
<div class="t" style="left:265.20px;top:939.43px;font-size:21.33px;line-height:21.33px;font-family:'Liberation Sans', sans-serif;font-weight:700;color:#f2f4f6;transform:scaleX(0.8860);">ZONE 1</div>
<div class="t" style="left:354.86px;top:939.43px;font-size:21.33px;line-height:21.33px;font-family:'Liberation Sans', sans-serif;color:#6d90b8;transform:scaleX(0.9633);">ZONE 2</div>
<div class="t" style="left:448.11px;top:939.43px;font-size:21.33px;line-height:21.33px;font-family:'Liberation Sans', sans-serif;color:#6d90b8;transform:scaleX(0.9666);">ZONE 3</div>
<div class="t" style="left:541.11px;top:939.43px;font-size:21.33px;line-height:21.33px;font-family:'Liberation Sans', sans-serif;color:#6d90b8;transform:scaleX(0.9657);">ZONE 4</div>
<div class="t" style="left:634.36px;top:939.43px;font-size:21.33px;line-height:21.33px;font-family:'Liberation Sans', sans-serif;color:#6d90b8;transform:scaleX(0.9666);">ZONE 5</div>
<div class="t" style="left:327.98px;top:1024.19px;font-size:17.78px;line-height:17.78px;font-family:'Liberation Sans', sans-serif;color:#dde4ec;transform:scaleX(1.0928);-webkit-text-stroke:0.45px #dde4ec;">Low 1st</div>
<div class="t" style="left:508.00px;top:1024.19px;font-size:17.78px;line-height:17.78px;font-family:'Liberation Sans', sans-serif;color:#dde4ec;transform:scaleX(0.9699);-webkit-text-stroke:0.45px #dde4ec;">Avg FPS</div>
<div class="t" style="left:870.00px;top:361.62px;font-size:23.47px;line-height:23.47px;font-family:'Liberation Sans', sans-serif;color:#8fa9c9;transform:scaleX(1.0323);">ALL</div>
<div class="t" style="left:1132.18px;top:361.62px;font-size:23.47px;line-height:23.47px;font-family:'Liberation Sans', sans-serif;font-weight:700;color:#f4f7fa;transform:scaleX(0.8651);">ZONE 1</div>
<div class="t" style="left:1405.04px;top:361.62px;font-size:23.47px;line-height:23.47px;font-family:'Liberation Sans', sans-serif;color:#8fa9c9;transform:scaleX(0.9630);">ZONE 2</div>
<div class="t" style="left:1683.04px;top:361.62px;font-size:23.47px;line-height:23.47px;font-family:'Liberation Sans', sans-serif;color:#8fa9c9;transform:scaleX(0.9630);">ZONE 3</div>
<div class="t" style="left:1960.04px;top:361.62px;font-size:23.47px;line-height:23.47px;font-family:'Liberation Sans', sans-serif;color:#8fa9c9;transform:scaleX(0.9648);">ZONE 4</div>
<div class="t" style="left:2236.79px;top:361.62px;font-size:23.47px;line-height:23.47px;font-family:'Liberation Sans', sans-serif;color:#8fa9c9;transform:scaleX(0.9720);">ZONE 5</div>
<div class="t" style="left:1457.39px;top:446.86px;font-size:42.67px;line-height:42.67px;font-family:'Liberation Sans', sans-serif;font-weight:700;color:#cdd5db;transform:scaleX(0.9171);-webkit-text-stroke:0.6px #cdd5db;">ZONE 1: INTRO</div>
<div class="t" style="left:804.06px;top:537.30px;font-size:30.93px;line-height:30.93px;font-family:'Liberation Sans', sans-serif;font-weight:700;color:#cfd6df;transform:scaleX(0.9031);-webkit-text-stroke:0.4px #cfd6df;">ZONE RESULTS</div>
<div class="t" style="left:930.00px;top:597.53px;font-size:20.62px;line-height:20.62px;font-family:'Liberation Sans', sans-serif;color:#a9b1bb;transform:scaleX(0.9685);">AVG FPS</div>
<div class="t" style="left:1278.27px;top:597.53px;font-size:20.62px;line-height:20.62px;font-family:'Liberation Sans', sans-serif;color:#a9b1bb;transform:scaleX(1.0750);">LOW 5TH</div>
<div class="t" style="left:1642.79px;top:597.53px;font-size:20.62px;line-height:20.62px;font-family:'Liberation Sans', sans-serif;color:#a9b1bb;transform:scaleX(0.9062);">LOW 1ST</div>
<div class="t" style="left:914.77px;top:628.03px;font-size:34.23px;line-height:34.23px;font-family:'Liberation Mono', monospace;color:#ffffff;transform:scaleX(0.9201);-webkit-text-stroke:0.75px #ffffff;">46 FPS</div>
<div class="t" style="left:1271.27px;top:628.03px;font-size:34.23px;line-height:34.23px;font-family:'Liberation Mono', monospace;color:#ffffff;transform:scaleX(0.9222);-webkit-text-stroke:0.75px #ffffff;">45 FPS</div>
<div class="t" style="left:1628.53px;top:628.03px;font-size:34.23px;line-height:34.23px;font-family:'Liberation Mono', monospace;color:#ffffff;transform:scaleX(0.9139);-webkit-text-stroke:0.75px #ffffff;">43 FPS</div>
<div class="t" style="left:1029.03px;top:808.49px;font-size:34.84px;line-height:34.84px;font-family:'Liberation Sans', sans-serif;font-weight:700;color:#cfd6de;transform:scaleX(0.8908);-webkit-text-stroke:0.7px #cfd6de;">CPU</div>
<div class="t" style="left:1560.76px;top:808.49px;font-size:34.84px;line-height:34.84px;font-family:'Liberation Sans', sans-serif;font-weight:700;color:#cfd6de;transform:scaleX(0.9048);-webkit-text-stroke:0.7px #cfd6de;">GPU</div>
<div class="t" style="left:820.50px;top:899.42px;font-size:24.89px;line-height:24.89px;font-family:'Liberation Sans', sans-serif;color:#c9cdd3;transform:scaleX(0.6462);">Avg FPS</div>
<div class="t" style="left:819.02px;top:934.42px;font-size:24.89px;line-height:24.89px;font-family:'Liberation Sans', sans-serif;color:#c9cdd3;transform:scaleX(0.7635);">Low 5th</div>
<div class="t" style="left:819.12px;top:969.42px;font-size:24.89px;line-height:24.89px;font-family:'Liberation Sans', sans-serif;color:#c9cdd3;transform:scaleX(0.7091);">Low 1st</div>
<div class="t" style="left:818.99px;top:1003.92px;font-size:24.89px;line-height:24.89px;font-family:'Liberation Sans', sans-serif;color:#c9cdd3;transform:scaleX(0.7762);">Bottleneck</div>
<div class="t" style="left:1355.50px;top:899.42px;font-size:24.89px;line-height:24.89px;font-family:'Liberation Sans', sans-serif;color:#c9cdd3;transform:scaleX(0.6488);">Avg FPS</div>
<div class="t" style="left:1354.02px;top:934.42px;font-size:24.89px;line-height:24.89px;font-family:'Liberation Sans', sans-serif;color:#c9cdd3;transform:scaleX(0.7635);">Low 5th</div>
<div class="t" style="left:1354.12px;top:969.42px;font-size:24.89px;line-height:24.89px;font-family:'Liberation Sans', sans-serif;color:#c9cdd3;transform:scaleX(0.7091);">Low 1st</div>
<div class="t" style="left:1353.99px;top:1003.92px;font-size:24.89px;line-height:24.89px;font-family:'Liberation Sans', sans-serif;color:#c9cdd3;transform:scaleX(0.7740);">Bottleneck</div>
<div class="t" style="left:1355.50px;top:1038.42px;font-size:24.89px;line-height:24.89px;font-family:'Liberation Sans', sans-serif;color:#c9cdd3;transform:scaleX(0.7005);">Avg Temp</div>
<div class="t" style="left:1354.06px;top:1072.92px;font-size:24.89px;line-height:24.89px;font-family:'Liberation Sans', sans-serif;color:#c9cdd3;transform:scaleX(0.7388);">Peak Temp.</div>
<div class="t" style="left:1214.99px;top:903.97px;font-size:21.58px;line-height:21.58px;font-family:'Liberation Mono', monospace;color:#c9cdd3;transform:scaleX(0.9351);">195 FPS</div>
<div class="t" style="left:1214.99px;top:938.97px;font-size:21.58px;line-height:21.58px;font-family:'Liberation Mono', monospace;color:#c9cdd3;transform:scaleX(0.9351);">184 FPS</div>
<div class="t" style="left:1214.99px;top:973.97px;font-size:21.58px;line-height:21.58px;font-family:'Liberation Mono', monospace;color:#c9cdd3;transform:scaleX(0.9351);">183 FPS</div>
<div class="t" style="left:1263.54px;top:1008.47px;font-size:21.58px;line-height:21.58px;font-family:'Liberation Mono', monospace;color:#c9cdd3;transform:scaleX(0.9463);">0 %</div>
<div class="t" style="left:1761.54px;top:903.97px;font-size:21.58px;line-height:21.58px;font-family:'Liberation Mono', monospace;color:#c9cdd3;transform:scaleX(0.9488);">46 FPS</div>
<div class="t" style="left:1761.54px;top:938.97px;font-size:21.58px;line-height:21.58px;font-family:'Liberation Mono', monospace;color:#c9cdd3;transform:scaleX(0.9488);">45 FPS</div>
<div class="t" style="left:1761.54px;top:973.97px;font-size:21.58px;line-height:21.58px;font-family:'Liberation Mono', monospace;color:#c9cdd3;transform:scaleX(0.9488);">45 FPS</div>
<div class="t" style="left:1774.24px;top:1008.47px;font-size:21.58px;line-height:21.58px;font-family:'Liberation Mono', monospace;color:#c9cdd3;transform:scaleX(0.9354);">100 %</div>
<div class="t" style="left:1773.72px;top:1042.97px;font-size:21.58px;line-height:21.58px;font-family:'Liberation Mono', monospace;color:#c9cdd3;transform:scaleX(0.9506);">67 °C</div>
<div class="t" style="left:1773.72px;top:1077.47px;font-size:21.58px;line-height:21.58px;font-family:'Liberation Mono', monospace;color:#c9cdd3;transform:scaleX(0.9506);">70 °C</div>
<div class="t" style="left:1992.96px;top:561.09px;font-size:34.13px;line-height:34.13px;font-family:'Liberation Sans', sans-serif;font-weight:700;color:#cfd6de;transform:scaleX(0.9557);-webkit-text-stroke:0.5px #cfd6de;">HIGH IMPACT SETTINGS</div>
<div class="t" style="left:1908.20px;top:609.01px;font-size:27.73px;line-height:27.73px;font-family:'Liberation Sans', sans-serif;color:#c9cfd6;transform:scaleX(0.8076);">Adjust the settings listed below to compare performance</div>
<div class="t" style="left:2103.79px;top:641.76px;font-size:26.55px;line-height:26.55px;font-family:'Liberation Sans', sans-serif;color:#c9cfd6;transform:scaleX(0.8533);">during this zone.</div>
<div class="t" style="left:1890.00px;top:716.93px;font-size:21.33px;line-height:21.33px;font-family:'Liberation Sans', sans-serif;font-weight:700;color:#d6dce4;transform:scaleX(0.9225);-webkit-text-stroke:0.3px #d6dce4;">TEXTURE RESOLUTION:</div>
<div class="t" style="left:2128.01px;top:718.44px;font-size:19.56px;line-height:19.56px;font-family:'Liberation Sans', sans-serif;color:#c6ccd4;transform:scaleX(0.8085);">HIGH</div>
<div class="t" style="left:1889.68px;top:816.18px;font-size:21.33px;line-height:21.33px;font-family:'Liberation Sans', sans-serif;font-weight:700;color:#d6dce4;transform:scaleX(0.9518);-webkit-text-stroke:0.3px #d6dce4;">SHADOW QUALITY:</div>
<div class="t" style="left:2086.93px;top:817.69px;font-size:19.56px;line-height:19.56px;font-family:'Liberation Sans', sans-serif;color:#c6ccd4;transform:scaleX(0.8735);">ULTRA</div>
<div class="t" style="left:1890.00px;top:915.43px;font-size:21.33px;line-height:21.33px;font-family:'Liberation Sans', sans-serif;font-weight:700;color:#d6dce4;transform:scaleX(0.9311);-webkit-text-stroke:0.3px #d6dce4;">VOLUMETRIC QUALITY:</div>
<div class="t" style="left:2123.75px;top:916.94px;font-size:19.56px;line-height:19.56px;font-family:'Liberation Sans', sans-serif;color:#c6ccd4;transform:scaleX(0.8194);">HIGH</div>
<div class="t" style="left:1889.69px;top:1013.68px;font-size:21.33px;line-height:21.33px;font-family:'Liberation Sans', sans-serif;font-weight:700;color:#d6dce4;transform:scaleX(0.9389);-webkit-text-stroke:0.3px #d6dce4;">SHADER QUALITY:</div>
<div class="t" style="left:2078.01px;top:1015.19px;font-size:19.56px;line-height:19.56px;font-family:'Liberation Sans', sans-serif;color:#c6ccd4;transform:scaleX(0.8085);">HIGH</div>
<div class="t" style="left:1903.59px;top:750.99px;font-size:23.04px;line-height:23.04px;font-family:'Liberation Sans', sans-serif;color:#8aa4b5;transform:scaleX(0.8384);-webkit-text-stroke:0.45px #8aa4b5;">CPU:</div>
<div class="t" style="left:1954.99px;top:750.99px;font-size:23.04px;line-height:23.04px;font-family:'Liberation Sans', sans-serif;font-weight:700;color:#a9a9a9;transform:scaleX(0.8728);">MEDIUM</div>
<div class="t" style="left:2051.25px;top:750.06px;font-size:25.19px;line-height:25.19px;font-family:'Liberation Sans', sans-serif;color:#8aa4b5;transform:scaleX(1.3408);">/</div>
<div class="t" style="left:2078.00px;top:750.99px;font-size:23.04px;line-height:23.04px;font-family:'Liberation Sans', sans-serif;font-weight:700;color:#5cc8f2;transform:scaleX(0.8594);">VRAM:</div>
<div class="t" style="left:2148.33px;top:750.99px;font-size:23.04px;line-height:23.04px;font-family:'Liberation Sans', sans-serif;font-weight:700;color:#a9a9a9;transform:scaleX(0.8098);">HIGH</div>
<div class="t" style="left:1903.58px;top:850.19px;font-size:23.04px;line-height:23.04px;font-family:'Liberation Sans', sans-serif;color:#8aa4b5;transform:scaleX(0.8558);-webkit-text-stroke:0.45px #8aa4b5;">GPU:</div>
<div class="t" style="left:1956.99px;top:850.19px;font-size:23.04px;line-height:23.04px;font-family:'Liberation Sans', sans-serif;font-weight:700;color:#a9a9a9;transform:scaleX(0.8728);">MEDIUM</div>
<div class="t" style="left:2053.00px;top:849.26px;font-size:25.19px;line-height:25.19px;font-family:'Liberation Sans', sans-serif;color:#8aa4b5;transform:scaleX(1.4114);">/</div>
<div class="t" style="left:2080.00px;top:850.19px;font-size:23.04px;line-height:23.04px;font-family:'Liberation Sans', sans-serif;font-weight:700;color:#5cc8f2;transform:scaleX(0.8594);">VRAM:</div>
<div class="t" style="left:2149.99px;top:850.19px;font-size:23.04px;line-height:23.04px;font-family:'Liberation Sans', sans-serif;font-weight:700;color:#a9a9a9;transform:scaleX(0.8728);">MEDIUM</div>
<div class="t" style="left:1903.59px;top:948.49px;font-size:23.04px;line-height:23.04px;font-family:'Liberation Sans', sans-serif;color:#8aa4b5;transform:scaleX(0.8384);-webkit-text-stroke:0.45px #8aa4b5;">CPU:</div>
<div class="t" style="left:1955.02px;top:948.49px;font-size:23.04px;line-height:23.04px;font-family:'Liberation Sans', sans-serif;font-weight:700;color:#a9a9a9;transform:scaleX(0.8569);">LOW</div>
<div class="t" style="left:2018.25px;top:947.56px;font-size:25.19px;line-height:25.19px;font-family:'Liberation Sans', sans-serif;color:#8aa4b5;transform:scaleX(1.3761);">/</div>
<div class="t" style="left:2043.32px;top:948.49px;font-size:23.04px;line-height:23.04px;font-family:'Liberation Sans', sans-serif;color:#8aa4b5;transform:scaleX(0.8605);-webkit-text-stroke:0.45px #8aa4b5;">GPU:</div>
<div class="t" style="left:2096.74px;top:948.49px;font-size:23.04px;line-height:23.04px;font-family:'Liberation Sans', sans-serif;font-weight:700;color:#a9a9a9;transform:scaleX(0.8756);">MEDIUM</div>
<div class="t" style="left:2193.25px;top:947.56px;font-size:25.19px;line-height:25.19px;font-family:'Liberation Sans', sans-serif;color:#8aa4b5;transform:scaleX(1.3761);">/</div>
<div class="t" style="left:2220.00px;top:948.49px;font-size:23.04px;line-height:23.04px;font-family:'Liberation Sans', sans-serif;font-weight:700;color:#5cc8f2;transform:scaleX(0.8594);">VRAM:</div>
<div class="t" style="left:2289.99px;top:948.49px;font-size:23.04px;line-height:23.04px;font-family:'Liberation Sans', sans-serif;font-weight:700;color:#a9a9a9;transform:scaleX(0.8728);">MEDIUM</div>
<div class="t" style="left:1903.58px;top:1046.84px;font-size:23.04px;line-height:23.04px;font-family:'Liberation Sans', sans-serif;color:#8aa4b5;transform:scaleX(0.8558);-webkit-text-stroke:0.45px #8aa4b5;">GPU:</div>
<div class="t" style="left:1956.99px;top:1046.84px;font-size:23.04px;line-height:23.04px;font-family:'Liberation Sans', sans-serif;font-weight:700;color:#a9a9a9;transform:scaleX(0.8728);">MEDIUM</div>
<div class="t" style="left:2053.00px;top:1045.91px;font-size:25.19px;line-height:25.19px;font-family:'Liberation Sans', sans-serif;color:#8aa4b5;transform:scaleX(1.4114);">/</div>
<div class="t" style="left:2080.00px;top:1046.84px;font-size:23.04px;line-height:23.04px;font-family:'Liberation Sans', sans-serif;font-weight:700;color:#5cc8f2;transform:scaleX(0.8594);">VRAM:</div>
<div class="t" style="left:2150.02px;top:1046.84px;font-size:23.04px;line-height:23.04px;font-family:'Liberation Sans', sans-serif;font-weight:700;color:#a9a9a9;transform:scaleX(0.8569);">LOW</div>
<div class="t" style="left:2061.99px;top:1129.65px;font-size:22.33px;line-height:22.33px;font-family:'Liberation Mono', monospace;color:#8b8e93;transform:scaleX(0.8999);-webkit-text-stroke:0.2px #8b8e93;">15:00 | 11/17/2025 | v.24679191</div>
<div class="t" style="left:1972.76px;top:1424.35px;font-size:16.71px;line-height:16.71px;font-family:'Liberation Sans', sans-serif;color:#b3b7bb;transform:scaleX(0.9438);">12.2.24679191[24-115.1047]10689+11:[7400][][1763229609.pl.G.steam][000122fffff]</div>
<div class="t" style="left:177.72px;top:1372.43px;font-size:21.33px;line-height:21.33px;font-family:'Liberation Sans', sans-serif;color:#dfe6ee;transform:scaleX(0.9152);">EXPORT REPORT</div>
<div class="t" style="left:149.90px;top:1375.10px;font-size:16.71px;line-height:16.71px;font-family:'Liberation Sans', sans-serif;font-weight:700;color:#000;transform:scaleX(0.8173);">R</div>
<div class="a" style="left:2312px;top:0px;width:248px;height:1440px;background:rgba(90,120,170,.048);z-index:9;pointer-events:none;"></div>
<div class="a" style="left:2305px;top:0px;width:7px;height:1440px;background:rgba(90,120,170,.07);z-index:9;pointer-events:none;"></div>
<div class="a" style="left:2305px;top:0px;width:1px;height:1440px;background:rgba(130,160,210,.09);z-index:9;"></div>
<div class="a" style="left:2312px;top:0px;width:1px;height:1440px;background:rgba(130,160,210,.08);z-index:9;"></div>
</body></html>
